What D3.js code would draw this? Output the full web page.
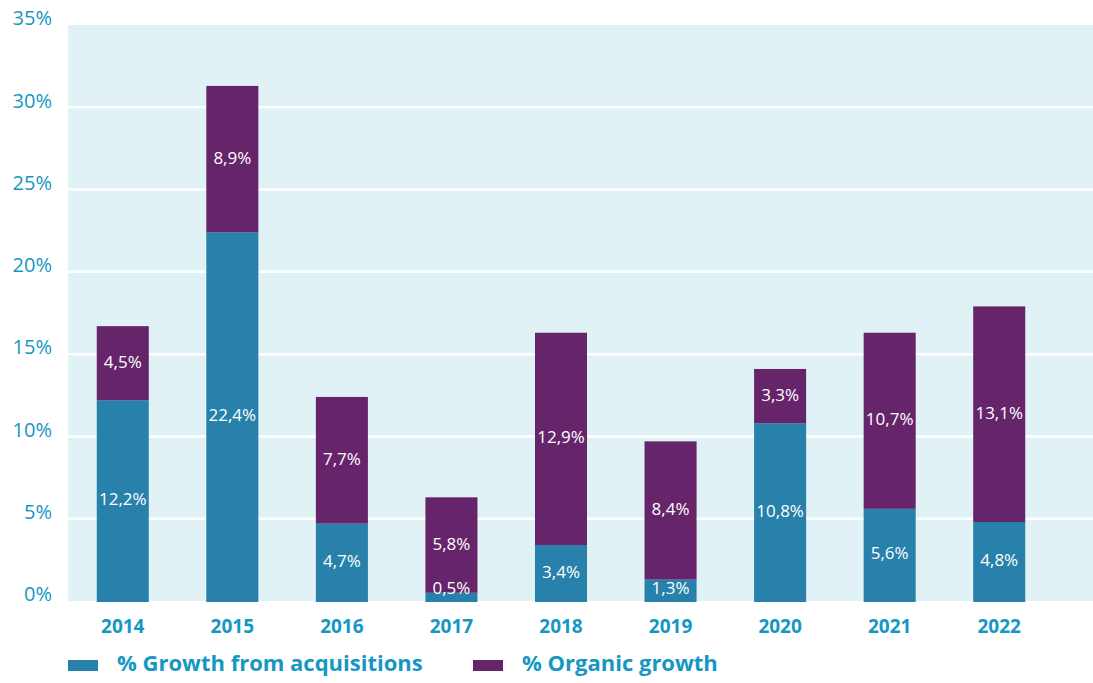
<!DOCTYPE html>
<html>
<head>
<meta charset="utf-8">
<script src="https://cdn.jsdelivr.net/npm/d3@7"></script>
<style>
  body { margin: 0; background: #ffffff; }
  text { font-family: "Open Sans", "Noto Sans", sans-serif; }
</style>
</head>
<body>
<div id="canvas"></div>
<script>
"use strict"

// DATA
let years = ["2014", "2015", "2016", "2017", "2018", "2019", "2020", "2021", "2022"];
let acquisitions = [12.2, 22.4, 4.7, 0.5, 3.4, 1.3, 10.8, 5.6, 4.8];
let organic = [4.5, 8.9, 7.7, 5.8, 12.9, 8.4, 3.3, 10.7, 13.1];
let yTicks = [0, 5, 10, 15, 20, 25, 30, 35];
let seriesNames = ["% Growth from acquisitions", "% Organic growth"];
let seriesColors = ["#2781ab", "#66246b"];

/* drawing config */
let svgWidth = 1093;
let svgHeight = 683;
let plotLeft = 68;
let plotRight = 1093;
let plotTop = 25;
let plotBottom = 601;

let svg = d3.select("#canvas")
  .append("svg")
  .attr("width", svgWidth)
  .attr("height", svgHeight);

// scales
let xScale = d3.scaleBand()
  .domain(years)
  .range([plotLeft, 1054])
  .paddingInner(0.525)
  .paddingOuter(0.2625);

let yScale = d3.scaleLinear()
  .domain([0, 35])
  .range([plotBottom, plotTop]);

// background
svg.append("rect")
  .attr("x", plotLeft)
  .attr("y", plotTop)
  .attr("width", plotRight - plotLeft)
  .attr("height", plotBottom - plotTop)
  .attr("fill", "#e0f2f5");

// gridlines
svg.selectAll(".grid")
  .data(yTicks.filter(function (d) { return d > 0 && d < 35; }))
  .join("line")
  .attr("class", "grid")
  .attr("x1", plotLeft)
  .attr("x2", plotRight)
  .attr("y1", function (d) { return yScale(d); })
  .attr("y2", function (d) { return yScale(d); })
  .attr("stroke", "#ffffff")
  .attr("stroke-width", 2.5);

// y tick labels
svg.selectAll(".ytick")
  .data(yTicks)
  .join("text")
  .attr("class", "ytick")
  .attr("x", 52)
  .attr("y", function (d) { return yScale(d) - 5; })
  .attr("text-anchor", "end")
  .attr("dominant-baseline", "middle")
  .attr("fill", "#1597c3")
  .style("font-size", "20px")
  .style("font-weight", "400")
  .text(function (d) { return d + "%"; });

// stacked data
let stackData = years.map(function (y, i) {
  return { year: y, acq: acquisitions[i], org: organic[i] };
});
let stacked = d3.stack().keys(["acq", "org"])(stackData);

let groups = svg.selectAll(".series")
  .data(stacked)
  .join("g")
  .attr("class", "series")
  .attr("fill", function (d, i) { return seriesColors[i]; });

groups.selectAll("rect")
  .data(function (d) { return d; })
  .join("rect")
  .attr("x", function (d) { return xScale(d.data.year); })
  .attr("y", function (d) { return yScale(d[1]); })
  .attr("width", xScale.bandwidth())
  .attr("height", function (d) { return yScale(d[0]) - yScale(d[1]) + (d[0] == 0 ? 1 : 0); });

// value labels
stacked.forEach(function (layer) {
  svg.selectAll(".lbl-" + layer.key)
    .data(layer)
    .join("text")
    .attr("class", "lbl-" + layer.key)
    .attr("x", function (d) { return xScale(d.data.year) + xScale.bandwidth() / 2; })
    .attr("y", function (d) {
      let mid = (yScale(d[0]) + yScale(d[1])) / 2;
      return Math.min(mid, yScale(d[0]) - 12);
    })
    .attr("text-anchor", "middle")
    .attr("dominant-baseline", "middle")
    .attr("fill", "#ffffff")
    .style("font-size", "17px")
    .text(function (d) { return String(d3.format(".1f")(d[1] - d[0])).replace(".", ",") + "%"; });
});

// x labels
svg.selectAll(".xtick")
  .data(years)
  .join("text")
  .attr("class", "xtick")
  .attr("x", function (d) { return xScale(d) + xScale.bandwidth() / 2; })
  .attr("y", 628)
  .attr("text-anchor", "middle")
  .attr("dominant-baseline", "middle")
  .attr("fill", "#1597c3")
  .style("font-size", "19px")
  .style("font-weight", "bold")
  .text(function (d) { return d; });

// legend
let legendX = [68, 473];
seriesNames.forEach(function (name, i) {
  svg.append("rect")
    .attr("x", legendX[i])
    .attr("y", 660)
    .attr("width", 30)
    .attr("height", 11)
    .attr("fill", seriesColors[i]);
  svg.append("text")
    .attr("x", legendX[i] + 49)
    .attr("y", 665)
    .attr("dominant-baseline", "middle")
    .attr("fill", "#1597c3")
    .style("font-size", "22px")
    .style("font-weight", "bold")
    .text(name);
});
</script>
</body>
</html>
